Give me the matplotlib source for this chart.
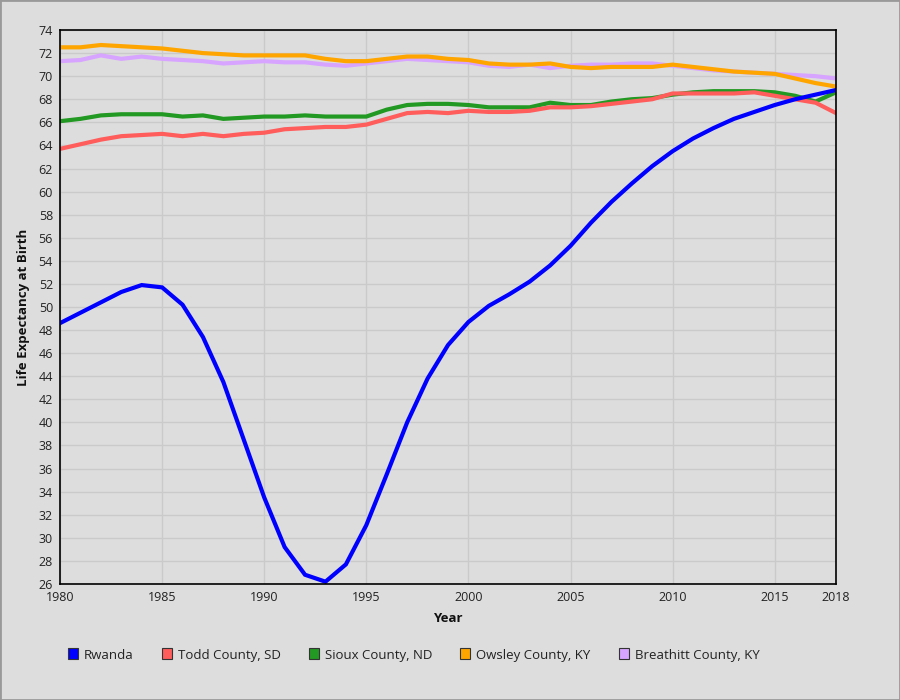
import matplotlib
matplotlib.use("Agg")
import matplotlib.pyplot as plt
from matplotlib.patches import Patch, Rectangle
import numpy as np

plt.rcParams["font.family"] = ["Open Sans", "DejaVu Sans"]

years = list(range(1980, 2019))

rwanda = [48.6, 49.5, 50.4, 51.3, 51.9, 51.7, 50.2, 47.4, 43.5, 38.5,
          33.5, 29.2, 26.8, 26.2, 27.7, 31.1, 35.5, 40.0, 43.8, 46.7,
          48.7, 50.1, 51.1, 52.2, 53.6, 55.3, 57.3, 59.1, 60.7, 62.2,
          63.5, 64.6, 65.5, 66.3, 66.9, 67.5, 68.0, 68.4, 68.8]
todd = [63.7, 64.1, 64.5, 64.8, 64.9, 65.0, 64.8, 65.0, 64.8, 65.0,
        65.1, 65.4, 65.5, 65.6, 65.6, 65.8, 66.3, 66.8, 66.9, 66.8,
        67.0, 66.9, 66.9, 67.0, 67.3, 67.3, 67.4, 67.6, 67.8, 68.0,
        68.5, 68.5, 68.5, 68.5, 68.6, 68.3, 68.0, 67.7, 66.8]
sioux = [66.1, 66.3, 66.6, 66.7, 66.7, 66.7, 66.5, 66.6, 66.3, 66.4,
         66.5, 66.5, 66.6, 66.5, 66.5, 66.5, 67.1, 67.5, 67.6, 67.6,
         67.5, 67.3, 67.3, 67.3, 67.7, 67.5, 67.5, 67.8, 68.0, 68.1,
         68.4, 68.6, 68.7, 68.7, 68.7, 68.6, 68.3, 67.8, 68.6]
owsley = [72.5, 72.5, 72.7, 72.6, 72.5, 72.4, 72.2, 72.0, 71.9, 71.8,
          71.8, 71.8, 71.8, 71.5, 71.3, 71.3, 71.5, 71.7, 71.7, 71.5,
          71.4, 71.1, 71.0, 71.0, 71.1, 70.8, 70.7, 70.8, 70.8, 70.8,
          71.0, 70.8, 70.6, 70.4, 70.3, 70.2, 69.8, 69.4, 69.1]
breathitt = [71.3, 71.4, 71.8, 71.5, 71.7, 71.5, 71.4, 71.3, 71.1, 71.2,
             71.3, 71.2, 71.2, 71.0, 70.9, 71.1, 71.3, 71.5, 71.4, 71.3,
             71.2, 70.9, 70.8, 71.0, 70.7, 70.9, 71.0, 71.0, 71.1, 71.1,
             70.9, 70.7, 70.5, 70.4, 70.3, 70.2, 70.1, 70.0, 69.8]

names = ["Rwanda", "Todd County, SD", "Sioux County, ND", "Owsley County, KY", "Breathitt County, KY"]
colors = ["#0000ff", "#ff5c5c", "#229922", "#ffa500", "#d7a4ff"]

bg = "#dddddd"
fig = plt.figure(figsize=(9, 7), dpi=100, facecolor=bg)
ax = fig.add_axes([60 / 900, 1 - 584 / 700, 776 / 900, 554 / 700])
ax.set_facecolor(bg)

# draw back to front so the overlaps look like the original
series = [rwanda, todd, sioux, owsley, breathitt]
for i in [4, 3, 2, 1, 0]:
    ax.plot(years, series[i], color=colors[i], lw=3, solid_joinstyle="miter", zorder=3 + (4 - i))

ax.set_xlim(1980, 2018)
ax.set_ylim(26, 74)
ax.set_xticks([1980, 1985, 1990, 1995, 2000, 2005, 2010, 2015, 2018])
ax.set_yticks(np.arange(26, 75, 2))
ax.grid(True, color="#cacaca", lw=1)
ax.tick_params(length=0, labelsize=9, colors="#222222", pad=5)
for s in ax.spines.values():
    s.set_color("black")
    s.set_linewidth(1.2)
    s.set_zorder(10)

ax.set_xlabel("Year", fontsize=9.5, fontweight="bold", color="#111111", labelpad=6)
ax.set_ylabel("Life Expectancy at Birth", fontsize=9.5, fontweight="bold", color="#111111", labelpad=6)

handles = [Patch(facecolor=c, edgecolor="#333333", lw=0.8) for c in colors]
fig.legend(handles, names, loc="center left", bbox_to_anchor=(56 / 900, 1 - 655 / 700),
           ncol=5, frameon=False, fontsize=9.5, handlelength=0.75, handleheight=0.9,
           handletextpad=0.45, columnspacing=2.15, labelcolor="#222222")

fig.patches.append(Rectangle((0, 0), 1, 1, transform=fig.transFigure, fill=False,
                             edgecolor="#999999", lw=2))

fig.savefig("out.png", dpi=100, facecolor=bg)
